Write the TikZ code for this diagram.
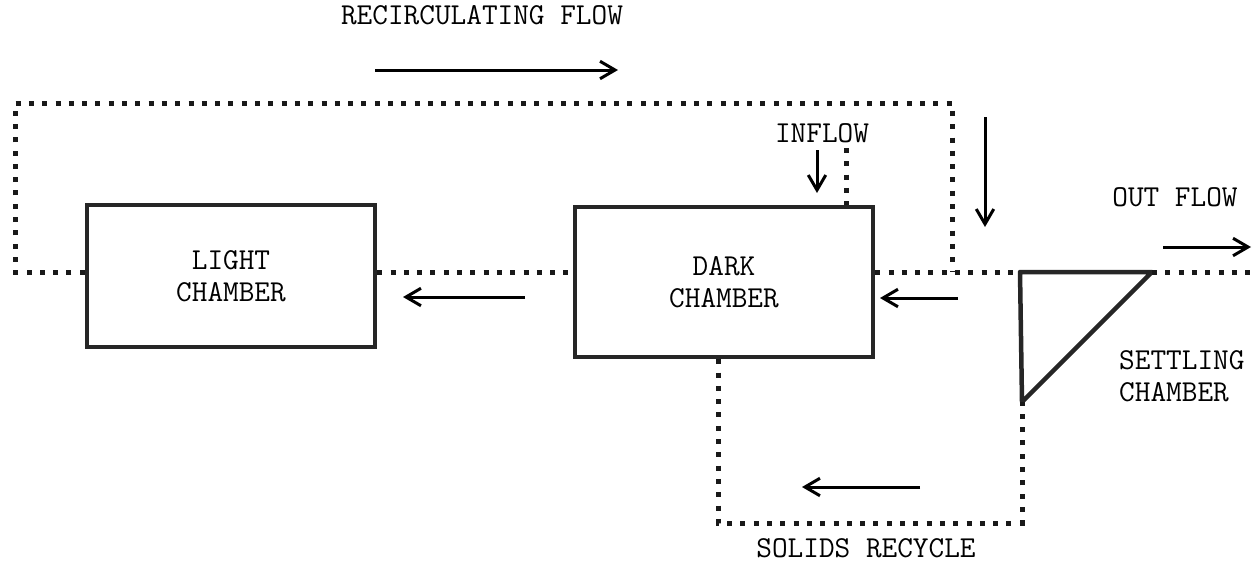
\documentclass[tikz,border=0pt]{standalone}
\usepackage{tikz}
\usetikzlibrary{arrows.meta, positioning, calc}

\begin{document}
\begin{tikzpicture}[x=0.2mm, y=-0.2mm,
    every node/.style={font=\ttfamily\fontsize{17.3}{18.2}\selectfont},
    chamber/.style={draw=black!85, line width=0.9mm, minimum width=57.6mm, minimum height=28.4mm, align=center},
    flow/.style={line width=1mm, dash pattern=on 1mm off 1.66mm, black!90},
    arrowline/.style={line width=0.6mm, -{Straight Barb[length=3mm, width=3.5mm]}}]
    \useasboundingbox (0,0) rectangle (1253,566);
    % chambers
    \node[chamber] (light) at (231,276) {LIGHT\\CHAMBER};
    \node[chamber, minimum width=59.6mm, minimum height=30mm] (dark) at (724,282) {DARK\\CHAMBER};
    \coordinate (st) at (1020,272);
    \coordinate (sr) at (1152,272);
    \coordinate (sb) at (1022,402);
    \draw[draw=black!85, line width=0.9mm, line join=round] (st) -- (sr) -- (sb) -- cycle;
    % labels
    \node (recirc) at (482,15) {RECIRCULATING FLOW};
    \node (inflow) at (822,133) {INFLOW};
    \node (outflow) at (1175,197) {OUT FLOW};
    \node[anchor=west, align=left] (settle) at (1113,376) {SETTLING\\CHAMBER};
    \node (solids) at (866,548) {SOLIDS RECYCLE};
    % dotted pipes
    \coordinate (lc) at (15,103);
    \coordinate (j) at (952,272);
    \coordinate (inf) at (846,148);
    \coordinate (sl) at (718,523);
    \coordinate (out) at (1253,274);
    \draw[flow] (light.west |- j) -| (lc) -| (j);
    \draw[flow] (light.east |- j) -- (dark.west |- j);
    \draw[flow] (dark.east |- j) -- (st);
    \draw[flow] (sr) -- (sr -| out);
    \draw[flow] (inf) -- (inf |- dark.north);
    \draw[flow] (sl |- dark.south) -- (sl) -| (sb);
    % flow arrows
    \draw[arrowline] (375,70) -- (618,70);
    \draw[arrowline] (525,297) -- (403,297);
    \draw[arrowline] (958,298) -- (880,298);
    \draw[arrowline] (817,150) -- (817,193);
    \draw[arrowline] (985,117) -- (985,227);
    \draw[arrowline] (1163,247) -- (1251,247);
    \draw[arrowline] (920,487) -- (802,487);
\end{tikzpicture}
\end{document}
